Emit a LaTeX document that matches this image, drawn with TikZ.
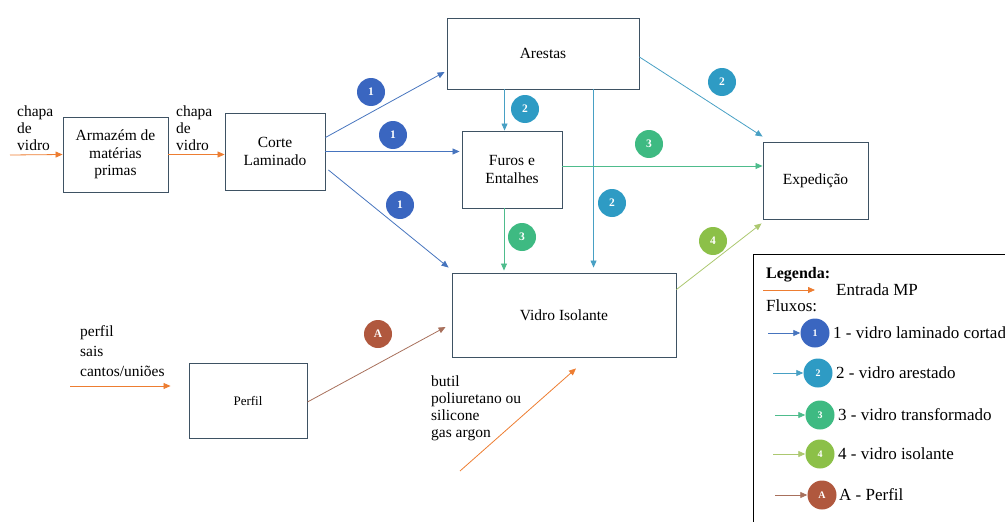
\documentclass[tikz,border=0pt]{standalone}
\usepackage{fontspec}
\setmainfont{Liberation Serif}
\usetikzlibrary{arrows.meta,calc}

\definecolor{boxline}{RGB}{62,82,99}
\definecolor{orangein}{RGB}{237,125,49}
\definecolor{blueline}{RGB}{70,116,190}
\definecolor{bluebadge}{RGB}{58,102,192}
\definecolor{tealline}{RGB}{72,160,196}
\definecolor{tealbadge}{RGB}{46,155,196}
\definecolor{greenline}{RGB}{78,188,140}
\definecolor{greenbadge}{RGB}{62,186,130}
\definecolor{limeline}{RGB}{172,200,112}
\definecolor{limebadge}{RGB}{140,192,72}
\definecolor{brownline}{RGB}{168,112,92}
\definecolor{brownbadge}{RGB}{176,88,62}

\begin{document}
\begin{tikzpicture}[x=1pt,y=-1pt,
  box/.style={draw=boxline, line width=0.9pt, align=center, inner sep=2pt,
    font=\fontsize{15.5}{17.5}\selectfont},
  flow/.style={line width=0.8pt, -{Triangle[length=7pt,width=6pt]}},
  badge/.style={circle, fill=#1, minimum size=28pt, inner sep=0pt, text=white,
    font=\fontsize{11.5}{12}\selectfont\bfseries},
  smallbadge/.style={circle, fill=#1, minimum size=29pt, inner sep=0pt, text=white,
    font=\fontsize{10}{11}\selectfont\bfseries},
  lbl/.style={align=left, inner sep=0pt, anchor=north west,
    font=\fontsize{15.5}{17}\selectfont},
  legtext/.style={anchor=west, inner sep=0pt, font=\fontsize{17}{19}\selectfont}]

\useasboundingbox (0,0) rectangle (1005,522);
\clip (0,0) rectangle (1005,522);

% process boxes
\node[box, minimum width=105pt, minimum height=75pt] (armazem) at (115.5,154.5) {Armazém de\\matérias\\primas};
\node[box, minimum width=100pt, minimum height=77pt] (corte) at (275,151.5) {Corte\\Laminado};
\node[box, minimum width=192pt, minimum height=71pt] (arestas) at (543,53.5) {Arestas};
\node[box, minimum width=100pt, minimum height=77pt] (furos) at (512,169.5) {Furos e\\Entalhes};
\node[box, minimum width=105pt, minimum height=77pt] (exped) at (815.5,180.5) {Expedição};
\node[box, minimum width=224pt, minimum height=84pt] (vidro) at (564,315) {Vidro Isolante};
\node[box, minimum width=118pt, minimum height=75pt, font=\fontsize{13}{15}\selectfont] (perfil) at (248,400.5) {Perfil};

% raw material labels
\node[lbl] (lchapa1) at (17,106) {chapa\\de\\vidro};
\node[lbl] (lchapa2) at (176,106) {chapa\\de\\vidro};
\node[lbl, font=\fontsize{15.5}{20}\selectfont] (lperfil) at (80,325) {perfil\\sais\\cantos/uniões};
\node[lbl] (lbutil) at (431,376) {butil\\poliuretano ou\\silicone\\gas argon};

% free ends of the input arrows
\coordinate (in1) at (10,155);
\coordinate (in2) at (70,386);
\coordinate (in3) at (460,471);

% raw material inputs
\draw[flow, orangein] (in1) -- (armazem.west);
\draw[flow, orangein] (armazem.east) -- (armazem.east -| corte.west);
\draw[flow, orangein] (in2) -- ([xshift=-18pt,yshift=14.5pt]perfil.west);
\draw[flow, orangein] (in3) -- ([xshift=12pt,yshift=-11pt]vidro.south);

% flow 1: laminated cut glass
\draw[flow, blueline] ([yshift=14pt]corte.east) -- ([xshift=-2pt,yshift=-18.5pt]arestas.west);
\draw[flow, blueline] (corte.east) -- ([xshift=-2pt]corte.east -| furos.west);
\draw[flow, blueline] ([xshift=3pt,yshift=-18.5pt]corte.east) -- ([xshift=-3pt,yshift=5pt]vidro.north west);

% flow 2: edged glass
\draw[flow, tealline] ([xshift=58pt]arestas.south west) -- ([xshift=58pt]arestas.south west |- furos.north);
\draw[flow, tealline] ([xshift=147pt]arestas.south west) -- ([xshift=147pt,yshift=5pt]arestas.south west |- vidro.north);
\draw[flow, tealline] ([yshift=-3.5pt]arestas.east) -- ([yshift=5pt]exped.north west);

% flow 3: processed glass
\draw[flow, greenline] ([yshift=3.5pt]furos.east) -- ([yshift=3.5pt]furos.east -| exped.west);
\draw[flow, greenline] ([xshift=-8pt]furos.south) -- ([xshift=-8pt,yshift=2pt]furos.south |- vidro.north);

% flow 4: insulating glass
\draw[flow, limeline] ([yshift=-17pt]vidro.north east) -- ([xshift=-1pt,yshift=-4pt]exped.south west);

% flow A: profile
\draw[flow, brownline] ([yshift=-1.5pt]perfil.east) -- ([xshift=-6pt,yshift=-12pt]vidro.west);

% flow badges
\node[badge=bluebadge] (b1a) at (371,92) {1};
\node[badge=bluebadge] (b1b) at (393,135) {1};
\node[badge=bluebadge] (b1c) at (400,205) {1};
\node[badge=tealbadge] (b2a) at (525,109) {2};
\node[badge=tealbadge] (b2b) at (612,203) {2};
\node[badge=tealbadge] (b2c) at (722,82) {2};
\node[badge=greenbadge] (b3a) at (649,144) {3};
\node[badge=greenbadge] (b3b) at (522,237) {3};
\node[badge=limebadge] (b4) at (713,241) {4};
\node[badge=brownbadge] (bA) at (378,334) {A};

% legend
\node[draw=black, line width=0.8pt, anchor=north west, minimum width=300pt, minimum height=300pt, inner sep=0pt] (legend) at (753,254) {};
\node[legtext, font=\fontsize{16}{18}\selectfont\bfseries] (legtitle) at (766,275) {Legenda:};
\coordinate (lin0) at (763,290);
\coordinate (lin1) at (815,290);
\draw[flow, orangein] (lin0) -- (lin1);
\node[legtext] (legmp) at (836,290) {Entrada MP};
\node[legtext] (legflux) at (766,306) {Fluxos:};

\node[smallbadge=bluebadge] (lb1) at (815,333) {1};
\node[smallbadge=tealbadge] (lb2) at (818,373) {2};
\node[smallbadge=greenbadge] (lb3) at (820,415) {3};
\node[smallbadge=limebadge] (lb4) at (820,454) {4};
\node[smallbadge=brownbadge] (lbA) at (822,495) {A};

\coordinate (la1) at (768,333);
\coordinate (la2) at (773,373);
\coordinate (la3) at (775,415);
\coordinate (la4) at (773,454);
\coordinate (laA) at (775,495);
\draw[flow, blueline] (la1) -- (lb1.west);
\draw[flow, tealline] (la2) -- (lb2.west);
\draw[flow, greenline] (la3) -- (lb3.west);
\draw[flow, limeline] (la4) -- (lb4.west);
\draw[flow, brownline] (laA) -- (lbA.west);

\node[legtext] (lt1) at (833,333) {1 - vidro laminado cortado};
\node[legtext] (lt2) at (836,373) {2 - vidro arestado};
\node[legtext] (lt3) at (838,415) {3 - vidro transformado};
\node[legtext] (lt4) at (838,454) {4 - vidro isolante};
\node[legtext] (ltA) at (839,495) {A - Perfil};
\end{tikzpicture}
\end{document}
